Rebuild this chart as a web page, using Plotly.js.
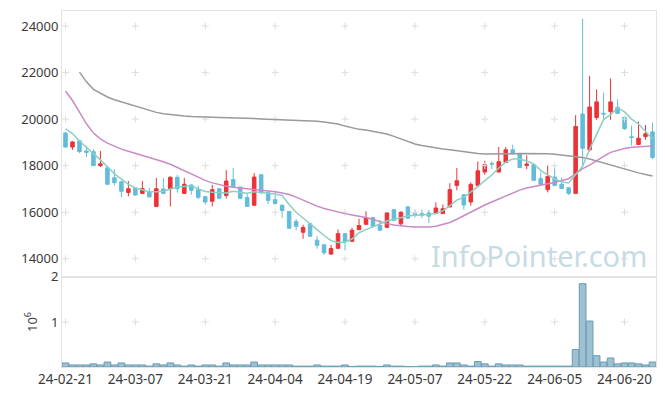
<!DOCTYPE html>
<html>
<head>
<meta charset="utf-8">
<script src="https://cdn.plot.ly/plotly-3.0.1.min.js"></script>
<style>html,body{margin:0;padding:0;background:#fff;}#chart{width:665px;height:396px;}</style>
</head>
<body>
<div id="chart"></div>
<script>
var dates = ['24-02-21','24-02-22','24-02-23','24-02-26','24-02-27','24-02-28','24-02-29',
'24-03-04','24-03-05','24-03-06','24-03-07','24-03-08','24-03-11','24-03-12','24-03-13','24-03-14','24-03-15','24-03-18','24-03-19','24-03-20','24-03-21','24-03-22','24-03-25','24-03-26','24-03-27','24-03-28','24-03-29',
'24-04-01','24-04-02','24-04-03','24-04-04','24-04-05','24-04-08','24-04-09','24-04-11','24-04-12','24-04-15','24-04-16','24-04-17','24-04-18','24-04-19','24-04-22','24-04-23','24-04-24','24-04-25','24-04-26','24-04-29','24-04-30',
'24-05-02','24-05-03','24-05-07','24-05-08','24-05-09','24-05-10','24-05-13','24-05-14','24-05-16','24-05-17','24-05-20','24-05-21','24-05-22','24-05-23','24-05-24','24-05-27','24-05-28','24-05-29','24-05-30','24-05-31',
'24-06-03','24-06-04','24-06-05','24-06-07','24-06-10','24-06-11','24-06-12','24-06-13','24-06-14','24-06-17','24-06-18','24-06-19','24-06-20','24-06-21','24-06-24','24-06-25','24-06-26'];

var open  = [19400,18800,19070,18630,18600,18000,17910,17480,17310,16850,17040,16810,16870,16250,17000,17000,17500,16810,17170,16970,16670,16470,17010,16720,17400,17080,16630,16300,17610,16840,16540,16300,16030,15600,15140,15510,14800,14600,14200,14450,15080,14750,15250,15480,15770,15430,15350,16110,15500,16230,15940,15940,15970,15940,15940,16230,17150,16750,16440,17150,17730,18100,17730,18140,18680,18510,18010,18040,17450,16970,17510,17200,17050,16810,20220,18680,20070,20250,20320,20510,20080,19240,18910,19250,19450];
var high  = [19450,19050,19080,18850,18710,18630,18000,17850,17330,17340,17060,17340,17050,17470,17470,17540,17600,17470,17200,17140,16690,17180,17030,17810,17900,17100,16780,17680,17640,16880,16870,16320,16040,15710,15460,15530,14970,14620,14600,15260,15100,15330,15720,16040,15800,15680,15400,16130,16040,16250,16110,16110,16110,16420,16330,17250,17900,16780,17280,18180,18210,18180,18800,18800,18900,18530,18440,18060,17710,18010,17970,17500,17080,20170,24320,21860,21280,21140,21750,20850,20090,19720,19890,19750,19850];
var low   = [18780,18680,18540,18370,17990,17940,17190,17150,16650,16680,16710,16780,16640,16250,16780,16250,16850,16780,16750,16570,16330,16250,16590,16590,17080,16580,16240,16280,16810,16350,16340,15760,15300,15220,14860,14950,14430,14170,14180,14440,14350,14740,15240,15470,15330,15200,15340,15640,15400,15730,15770,15750,15540,15930,15930,16210,16940,16110,16280,17140,17610,17850,17700,18120,18490,17900,17850,17350,17150,16850,17140,16990,16740,16800,17970,18610,19970,19970,19970,20240,19540,18870,18890,19110,18280];
var close = [18800,19020,18610,18570,18000,18080,17200,17270,16900,17010,16740,17010,16660,17010,16810,17500,17010,17200,16940,16640,16440,16970,16600,17340,17110,16600,16250,17510,16830,16510,16370,16070,15310,15400,15340,14970,14580,14260,14440,15080,14740,15230,15430,15770,15400,15230,15970,15650,16000,15740,15860,15870,15830,16180,16150,16970,17350,16310,17200,17780,18040,18070,18170,18680,18510,17920,18070,17370,17200,17530,17150,17020,16810,19680,18750,20520,20740,20220,20740,20250,19590,19210,19180,19370,18350];
var volume = [0.09,0.045,0.045,0.045,0.07,0.045,0.11,0.045,0.09,0.045,0.045,0.045,0.02,0.07,0.045,0.09,0.045,0.02,0.045,0.02,0.045,0.045,0.02,0.09,0.045,0.045,0.045,0.11,0.045,0.045,0.045,0.045,0.045,0.02,0.02,0.02,0.045,0.02,0.02,0.02,0.045,0.01,0.02,0.02,0.02,0.01,0.045,0.02,0.02,0.01,0.005,0.02,0.02,0.045,0.02,0.09,0.09,0.045,0.02,0.12,0.07,0.02,0.07,0.045,0.045,0.045,0.02,0.02,0.02,0.02,0.02,0.02,0.02,0.386,1.85,1.02,0.25,0.11,0.2,0.07,0.09,0.09,0.07,0.045,0.11];

var ma5  = [19580,19380,19060,18800,18550,18250,17950,17650,17420,17200,17040,16960,16880,16880,16900,17000,17080,17110,17140,17000,16890,16860,16840,16830,16900,16850,16820,16880,16860,16820,16780,16720,16330,16000,15750,15520,15250,15000,14780,14700,14720,14850,15120,15250,15380,15480,15620,15700,15770,15840,15870,15880,15900,15950,16060,16280,16520,16640,16860,17100,17360,17600,17900,18150,18290,18290,18200,18080,17800,17600,17440,17300,17260,17640,17980,18700,19350,19980,20190,20490,20310,20000,19790,19460,19150];
var ma20 = [21208,20800,20300,19800,19400,19150,18970,18830,18710,18620,18530,18450,18380,18290,18170,18060,17920,17770,17620,17480,17370,17260,17180,17120,17070,17040,17010,16990,16950,16920,16880,16830,16760,16650,16510,16380,16260,16160,16080,16000,15940,15880,15830,15770,15690,15590,15510,15450,15410,15390,15370,15360,15370,15400,15470,15560,15700,15860,16010,16170,16310,16440,16570,16700,16830,16950,17040,17090,17150,17220,17280,17360,17440,17650,17870,18020,18220,18400,18570,18670,18740,18790,18820,18840,18850];
var ma60 = [null,null,22020,21600,21280,21100,20950,20830,20740,20640,20550,20450,20360,20290,20230,20190,20160,20130,20110,20090,20080,20075,20070,20065,20065,20055,20040,20025,20010,20000,19990,19980,19975,19968,19955,19935,19910,19880,19850,19790,19700,19620,19560,19530,19480,19430,19360,19260,19140,19030,18930,18870,18810,18760,18720,18680,18640,18590,18550,18520,18505,18500,18500,18505,18510,18520,18523,18523,18520,18510,18490,18460,18420,18390,18350,18290,18200,18120,18040,17960,17870,17770,17690,17620,17560];

var tickDates = ['24-02-21','24-03-07','24-03-21','24-04-04','24-04-19','24-05-07','24-05-22','24-06-05','24-06-20'];
var priceTicks = [14000,16000,18000,20000,22000,24000];
var volTicks = [1e6, 2e6];
var volTickText = ['1','2'];

var volRaw = volume.map(function(v){return v*1e6;});

var gx = [], gy = [];
tickDates.forEach(function(d){ priceTicks.forEach(function(p){ gx.push(d); gy.push(p); }); });
var vgx = [], vgy = [];
tickDates.forEach(function(d){ vgx.push(d); vgy.push(volTicks[0]); });

var crossMarker = {symbol:'cross-thin', size:5, color:'#dddddd', line:{color:'#dddddd', width:1}};
var traces = [
  {type:'scatter', mode:'markers', x:gx, y:gy, xaxis:'x', yaxis:'y', hoverinfo:'skip', showlegend:false, marker:crossMarker},
  {type:'scatter', mode:'markers', x:vgx, y:vgy, xaxis:'x2', yaxis:'y2', hoverinfo:'skip', showlegend:false, marker:crossMarker},
  {type:'scatter', mode:'lines', x:dates, y:ma60, xaxis:'x', yaxis:'y', line:{color:'#9a9a9a', width:1.5}, showlegend:false, hoverinfo:'skip'},
  {type:'scatter', mode:'lines', x:dates, y:ma20, xaxis:'x', yaxis:'y', line:{color:'#c98bc6', width:1.5}, showlegend:false, hoverinfo:'skip'},
  {type:'scatter', mode:'lines', x:dates, y:ma5, xaxis:'x', yaxis:'y', line:{color:'#8dcfc3', width:1.5}, showlegend:false, hoverinfo:'skip'},
  {type:'candlestick', x:dates, open:open, high:high, low:low, close:close, xaxis:'x', yaxis:'y', showlegend:false,
   increasing:{line:{color:'#ec3237', width:1}, fillcolor:'#ec3237'},
   decreasing:{line:{color:'#63bcd9', width:1}, fillcolor:'#63bcd9'}},
  {type:'bar', x:dates, y:volRaw, xaxis:'x2', yaxis:'y2', showlegend:false,
   marker:{color:'#9dc1d1', line:{color:'#6a9ab4', width:1}}}
];

var axisFont = {family:'Noto Sans, sans-serif', size:13, color:'#3a3a3a'};
var xFont = {family:'Noto Sans, sans-serif', size:13.5, color:'#3a3a3a'};
var layout = {
  width:665, height:396,
  margin:{l:62, r:9, t:11, b:29, pad:0},
  paper_bgcolor:'#fff', plot_bgcolor:'#fff',
  showlegend:false,
  boxgap:0.28,
  bargap:0.04,
  font:axisFont,
  xaxis:{type:'category', categoryorder:'array', categoryarray:dates, domain:[0,1], anchor:'y', range:[-0.5,84.5], showticklabels:false, showgrid:false, zeroline:false,
         showline:true, mirror:true, linecolor:'#e3e3e3', linewidth:1, ticks:'', rangeslider:{visible:false}, fixedrange:true},
  yaxis:{domain:[0.253,1], anchor:'x', range:[13220,24645], tickvals:priceTicks, tickformat:'d', showgrid:false, zeroline:false,
         showline:true, mirror:true, linecolor:'#e3e3e3', linewidth:1, ticks:'', tickfont:axisFont},
  xaxis2:{type:'category', categoryorder:'array', categoryarray:dates, domain:[0,1], anchor:'y2', matches:'x', range:[-0.5,84.5], tickvals:tickDates, ticktext:tickDates, showgrid:false, zeroline:false,
         showline:true, mirror:true, linecolor:'#e3e3e3', linewidth:1, ticks:'', tickfont:xFont, tickangle:0},
  yaxis2:{domain:[0,0.253], anchor:'x2', range:[0,2e6], tickvals:volTicks, ticktext:volTickText, showgrid:false, zeroline:false,
         showline:true, mirror:true, linecolor:'#e3e3e3', linewidth:1, ticks:'', tickfont:axisFont,
         title:{text:'10<sup>6</sup>', font:axisFont, standoff:10}},
  annotations:[{text:'InfoPointer.com', xref:'paper', yref:'paper', x:0.988, y:0.312, xanchor:'right', yanchor:'middle',
    showarrow:false, font:{family:'Noto Sans, sans-serif', size:29, color:'#c7dbe5'}}]
};

Plotly.newPlot('chart', traces, layout, {staticPlot:true, displayModeBar:false});
</script>
</body>
</html>
